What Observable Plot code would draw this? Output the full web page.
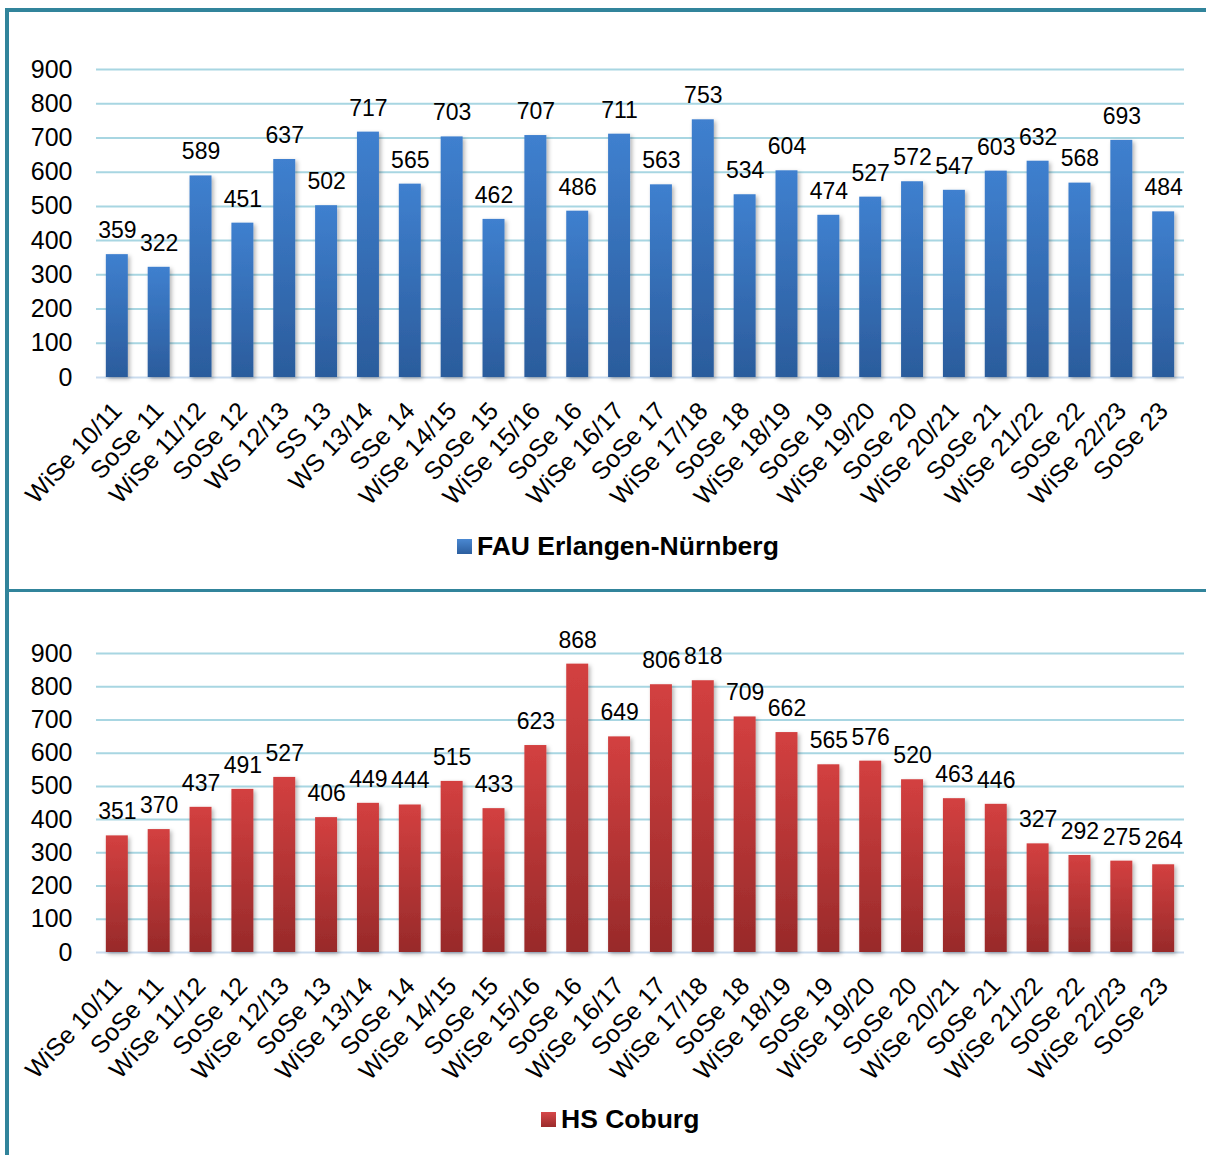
<!DOCTYPE html>
<html>
<head>
<meta charset="utf-8">
<script src="https://cdn.jsdelivr.net/npm/d3@7"></script>
<script src="https://cdn.jsdelivr.net/npm/@observablehq/plot@0.6"></script>
<style>
  html, body { margin: 0; padding: 0; background: #fff; }
  #page { position: relative; width: 1206px; height: 1155px; overflow: hidden; background: #fff; font-family: "Liberation Sans", Arial, sans-serif; }
  .chart { position: absolute; left: 0; }
  .line { position: absolute; background: #31849B; }
  .legend { position: absolute; display: flex; align-items: center; font-weight: bold; font-size: 26.5px; color: #000; white-space: nowrap; }
  .legend .sw { width: 15px; height: 15px; margin-right: 5px; }
</style>
</head>
<body>
<div id="page">
  <div id="top" class="chart" style="top:0px"></div>
  <div id="bottom" class="chart" style="top:590px"></div>
  <div class="line" style="left:5px; top:8px; width:1201px; height:3.5px"></div>
  <div class="line" style="left:5px; top:8px; width:3.5px; height:1147px"></div>
  <div class="line" style="left:5px; top:589px; width:1201px; height:3px"></div>
  <div class="legend" id="legTop" style="left:457px; top:531px"><div class="sw" style="background:linear-gradient(#4a88d2,#2c5e9e)"></div><span>FAU Erlangen-Nürnberg</span></div>
  <div class="legend" id="legBot" style="left:541px; top:1104px"><div class="sw" style="background:linear-gradient(#d6484a,#9b2b2b)"></div><span>HS Coburg</span></div>
</div>
<script>
// ---- data ----
const topCategories = ["WiSe 10/11","SoSe 11","WiSe 11/12","SoSe 12","WS 12/13","SS 13","WS 13/14","SSe 14","WiSe 14/15","SoSe 15","WiSe 15/16","SoSe 16","WiSe 16/17","SoSe 17","WiSe 17/18","SoSe 18","WiSe 18/19","SoSe 19","WiSe 19/20","SoSe 20","WiSe 20/21","SoSe 21","WiSe 21/22","SoSe 22","WiSe 22/23","SoSe 23"];
const topValues = [359,322,589,451,637,502,717,565,703,462,707,486,711,563,753,534,604,474,527,572,547,603,632,568,693,484];
const topSeries = "FAU Erlangen-Nürnberg";

const bottomCategories = ["WiSe 10/11","SoSe 11","WiSe 11/12","SoSe 12","WiSe 12/13","SoSe 13","WiSe 13/14","SoSe 14","WiSe 14/15","SoSe 15","WiSe 15/16","SoSe 16","WiSe 16/17","SoSe 17","WiSe 17/18","SoSe 18","WiSe 18/19","SoSe 19","WiSe 19/20","SoSe 20","WiSe 20/21","SoSe 21","WiSe 21/22","SoSe 22","WiSe 22/23","SoSe 23"];
const bottomValues = [351,370,437,491,527,406,449,444,515,433,623,868,649,806,818,709,662,565,576,520,463,446,327,292,275,264];
const bottomSeries = "HS Coburg";

const yTicks = [0,100,200,300,400,500,600,700,800,900];

function makeChart({cats, vals, id, c1, c2, height, marginTop, marginBottom}) {
  const data = cats.map((c, i) => ({cat: c, val: vals[i]}));
  const svg = Plot.plot({
    width: 1206, height, marginLeft: 96, marginRight: 22, marginTop, marginBottom,
    style: {fontFamily: '"Liberation Sans", Arial, sans-serif', color: "#000", background: "transparent", overflow: "visible"},
    x: {domain: cats, paddingInner: 0.475, paddingOuter: 0.235, round: false, label: null},
    y: {domain: [0, 900], label: null},
    marks: [
      Plot.gridY(yTicks.slice(1), {stroke: "#A8D6E2", strokeOpacity: 1, strokeWidth: 2}),
      Plot.ruleY([0], {stroke: "#C9DBEE", strokeWidth: 2}),
      Plot.barY(data, {x: "cat", y: "val", fill: `url(#g${id})`}),
      Plot.text(data, {x: "cat", y: "val", text: d => String(d.val), dy: -24, fontSize: 23, fill: "#000"}),
      Plot.axisY(yTicks, {tickSize: 0, tickPadding: 24, fontSize: 25, label: null}),
      Plot.axisX({tickSize: 0, tickRotate: -47, tickPadding: 29, fontSize: 25, label: null, dx: 0})
    ]
  });
  const s = d3.select(svg);
  const defs = s.insert("defs", ":first-child");
  const g = defs.append("linearGradient").attr("id", `g${id}`).attr("x1", 0).attr("y1", 0).attr("x2", 0).attr("y2", 1);
  g.append("stop").attr("offset", "0%").attr("stop-color", c1);
  g.append("stop").attr("offset", "100%").attr("stop-color", c2);
  const f = defs.append("filter").attr("id", `sh${id}`).attr("x", "-30%").attr("y", "-10%").attr("width", "160%").attr("height", "125%");
  f.append("feDropShadow").attr("dx", 2).attr("dy", 2).attr("stdDeviation", 2).attr("flood-color", "#000").attr("flood-opacity", 0.3);
  s.selectAll('g[aria-label="bar"] rect').attr("filter", `url(#sh${id})`);
  return svg;
}

document.getElementById("top").appendChild(makeChart({cats: topCategories, vals: topValues, id: "t", c1: "#3F80CF", c2: "#2B5C9C", height: 530, marginTop: 69, marginBottom: 153}));
document.getElementById("bottom").appendChild(makeChart({cats: bottomCategories, vals: bottomValues, id: "b", c1: "#D34040", c2: "#982A2A", height: 510, marginTop: 63, marginBottom: 148}));
</script>
</body>
</html>
